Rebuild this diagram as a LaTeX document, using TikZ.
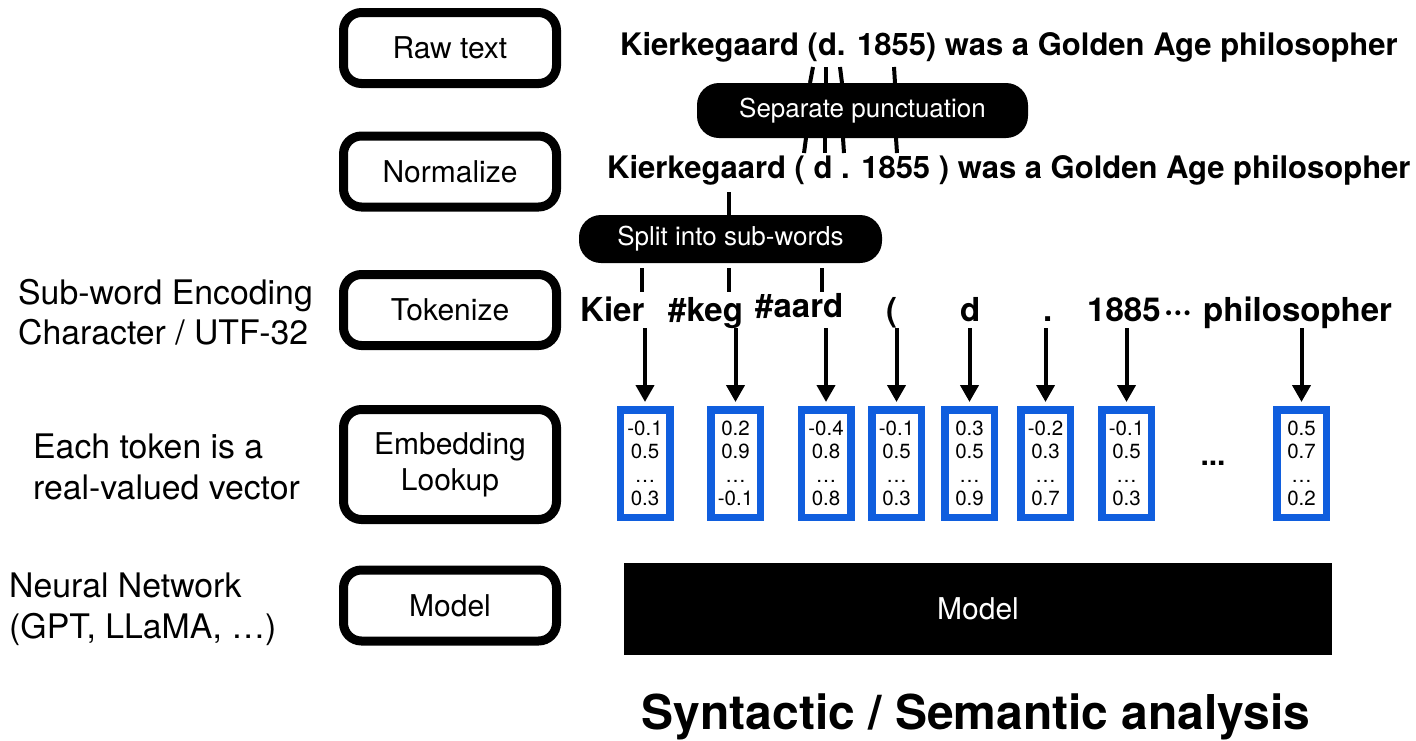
\documentclass[tikz,border=0pt]{standalone}
\usepackage{fontspec}
\setmainfont{TeX Gyre Heros}
\usetikzlibrary{arrows.meta}
\definecolor{vecblue}{RGB}{16,94,222}
\newcommand\pxfont[1]{\fontsize{#1}{#1}\selectfont}

\begin{document}
\begin{tikzpicture}[x=1pt,y=-1pt,
  stage/.style={draw, line width=9pt, rounded corners=18pt, minimum width=213pt,
    minimum height=71pt, inner sep=0pt, align=center, font=\fontsize{30}{36}\selectfont},
  pill/.style={fill=black, text=white, rounded corners=22pt, inner sep=0pt,
    font=\pxfont{26}},
  vec/.style={draw=vecblue, line width=7.5pt, fill=white, minimum width=49.5pt,
    minimum height=107.5pt, inner sep=0pt, align=center,
    font=\fontsize{20.5}{23.5}\selectfont},
  sent/.style={font=\bfseries\pxfont{31}, anchor=base west, inner sep=0pt},
  tok/.style={font=\bfseries\pxfont{33}, anchor=base west, inner sep=0pt},
  side/.style={font=\pxfont{33.8}, anchor=base west, inner sep=0pt},
  tick/.style={line width=4pt},
  arr/.style={line width=4pt, shorten >=4pt, -{Triangle[width=18pt,length=17pt]}},
]
\useasboundingbox (0,0) rectangle (1416,740);

% pipeline stages on the left
\node[stage] (raw)  at (450,48)    {Raw text};
\node[stage] (norm) at (450,171.5) {Normalize};
\node[stage] (tokz) at (450,310)   {Tokenize};
\node[stage, minimum height=110pt] (emb) at (450,464.5) {Embedding\\Lookup};
\node[stage] (mdl)  at (450,605.5) {Model};

% side notes
\node[side] (sw)  at (18,304) {Sub-word Encoding};
\node[side] (ch)  at (18,344) {Character / UTF-32};
\node[side] (et)  at (33,458) {Each token is a};
\node[side] (rv)  at (33,499) {real-valued vector};
\node[side] (nn)  at (9,597)  {Neural Network};
\node[side] (gpt) at (9,638)  {(GPT, LLaMA, …)};

% raw and normalised sentences
\node[sent] (s1) at (620,55)  {Kierkegaard (d. 1855) was a Golden Age philosopher};
\node[sent] (s2) at (607,178) {Kierkegaard ( d . 1855 ) was a Golden Age philosopher};

% punctuation splitting
\draw[tick] (813,67) -- (810,83);
\draw[tick] (826,67) -- (826,83);
\draw[tick] (840,67) -- (842,83);
\draw[tick] (894,67) -- (895,83);
\draw[tick] (806,138) -- (804,153);
\draw[tick] (825,138) -- (825,153);
\draw[tick] (843,138) -- (844,153);
\draw[tick] (896,138) -- (897,153);
\node[pill, minimum width=331pt, minimum height=55pt] (sep) at (862.5,110.5) {Separate punctuation};

% sub-word splitting
\node[pill, minimum width=303pt, minimum height=48pt] (split) at (730.5,239) {Split into sub-words};
\draw[tick] (729,192) -- (split.north -| 729,0);
\draw[tick] (642,268) -- (642,292);
\draw[tick] (729,268) -- (729,292);
\draw[tick] (822,268) -- (822,292);

% tokens
\node[tok] (t1) at (580,321)  {Kier};
\node[tok] (t2) at (668,321)  {\#keg};
\node[tok] (t3) at (755,317)  {\#aard};
\node[tok] (t4) at (886,321)  {(};
\node[tok] (t5) at (960,321)  {d};
\node[tok] (t6) at (1043,321) {.};
\node[tok] (t7) at (1087,321) {1885};
\node[tok] (t8) at (1164,321) {···};
\node[tok] (t9) at (1203,321) {philosopher};

% embedding vectors
\node[vec] (v1) at (645,463.5)    {-0.1\\0.5\\…\\0.3};
\node[vec] (v2) at (735.5,463.5)  {0.2\\0.9\\…\\-0.1};
\node[vec] (v3) at (826,463.5)    {-0.4\\0.8\\…\\0.8};
\node[vec] (v4) at (896.5,463.5)  {-0.1\\0.5\\…\\0.3};
\node[vec] (v5) at (969.5,463.5)  {0.3\\0.5\\…\\0.9};
\node[vec] (v6) at (1045.5,463.5) {-0.2\\0.3\\…\\0.7};
\node[vec] (v7) at (1126.5,463.5) {-0.1\\0.5\\…\\0.3};
\node[vec] (v8) at (1301.5,463.5) {0.5\\0.7\\…\\0.2};
\node[font=\bfseries\pxfont{30}, inner sep=0pt] (gap) at (1213,463) {...};

\foreach \v in {v1,v2,v3,v4,v5,v6,v7,v8}
  \draw[arr] ([yshift=78pt]\v.north) -- (\v.north);

% model block and caption
\node[fill=black, text=white, minimum width=708pt, minimum height=92pt, inner sep=0pt,
  font=\pxfont{30}] (model) at (978,609) {Model};
\node[font=\bfseries\pxfont{48}, anchor=base, inner sep=0pt] (cap) at (976,729)
  {Syntactic / Semantic analysis};
\end{tikzpicture}
\end{document}
